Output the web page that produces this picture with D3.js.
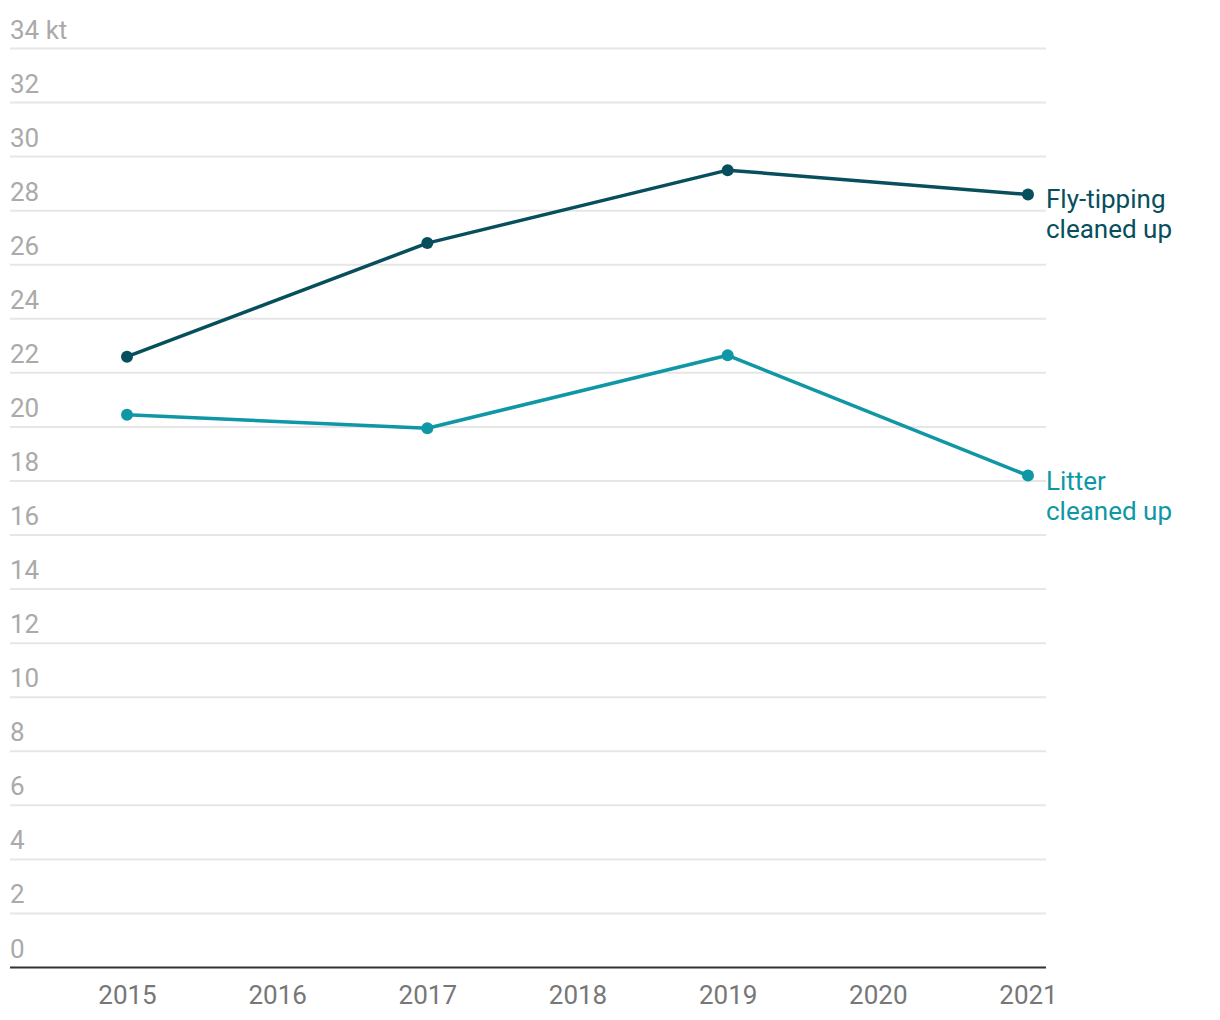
<!DOCTYPE html>
<html>
<head>
<meta charset="utf-8">
<script src="https://cdn.jsdelivr.net/npm/d3@7"></script>
<style>
  body { margin: 0; background: #fff; }
  svg { font-family: Roboto, "Noto Sans", sans-serif; }
</style>
</head>
<body>
<svg id="svg" width="1220" height="1020"></svg>
<script>
var years = [2015, 2017, 2019, 2021];
var flyTipping = [22.6, 26.8, 29.5, 28.6];
var litter = [20.45, 19.95, 22.65, 18.2];
var xTicks = [2015, 2016, 2017, 2018, 2019, 2020, 2021];
var yTicks = [0, 2, 4, 6, 8, 10, 12, 14, 16, 18, 20, 22, 24, 26, 28, 30, 32, 34];

var series = [
  { name: ["Fly-tipping", "cleaned up"], values: flyTipping, color: "#074f5d" },
  { name: ["Litter", "cleaned up"], values: litter, color: "#0f97a5" }
];

var svg = d3.select("#svg");

var x = d3.scaleLinear().domain([2015, 2021]).range([127, 1028]);
var y = d3.scaleLinear().domain([0, 34]).range([967.5, 48.5]);

//////// GRID + Y LABELS ////////
var grid = svg.append("g");
grid.selectAll("line").data(yTicks.filter(function(d) { return d > 0; })).enter()
  .append("line")
  .attr("x1", 10).attr("x2", 1046)
  .attr("y1", function(d) { return y(d); })
  .attr("y2", function(d) { return y(d); })
  .attr("stroke", "#e6e6e6")
  .attr("stroke-width", 2);

grid.selectAll("text").data(yTicks).enter()
  .append("text")
  .attr("x", 10)
  .attr("y", function(d) { return y(d) - 10; })
  .attr("font-size", 26)
  .attr("fill", "#aaaaaa")
  .text(function(d) { return d === 34 ? "34 kt" : d; });

// baseline
svg.append("line")
  .attr("x1", 10).attr("x2", 1046)
  .attr("y1", y(0)).attr("y2", y(0))
  .attr("stroke", "#333")
  .attr("stroke-width", 2);

//////// X AXIS ////////
var xAxis = svg.append("g")
  .attr("transform", "translate(0," + y(0) + ")")
  .call(d3.axisBottom(x).tickValues(xTicks).tickFormat(d3.format("d")).tickSize(0).tickPadding(18));
xAxis.select(".domain").remove();
xAxis.selectAll("text")
  .attr("font-family", "Roboto, sans-serif")
  .attr("font-size", 26)
  .attr("fill", "#777");

//////// LINES ////////
var line = d3.line()
  .x(function(d, i) { return x(years[i]); })
  .y(function(d) { return y(d); });

series.forEach(function(s) {
  var g = svg.append("g");
  g.append("path")
    .attr("d", line(s.values))
    .attr("fill", "none")
    .attr("stroke", s.color)
    .attr("stroke-width", 3.5)
    .attr("stroke-linejoin", "round");

  g.selectAll("circle").data(s.values).enter()
    .append("circle")
    .attr("cx", function(d, i) { return x(years[i]); })
    .attr("cy", function(d) { return y(d); })
    .attr("r", 6)
    .attr("fill", s.color);

  var last = s.values[s.values.length - 1];
  g.append("text")
    .attr("x", 1046)
    .attr("y", y(last) + 14)
    .attr("font-size", 26)
    .attr("fill", s.color)
    .selectAll("tspan").data(s.name).enter()
    .append("tspan")
    .attr("x", 1046)
    .attr("dy", function(d, i) { return i === 0 ? 0 : 30; })
    .text(function(d) { return d; });
});
</script>
</body>
</html>
